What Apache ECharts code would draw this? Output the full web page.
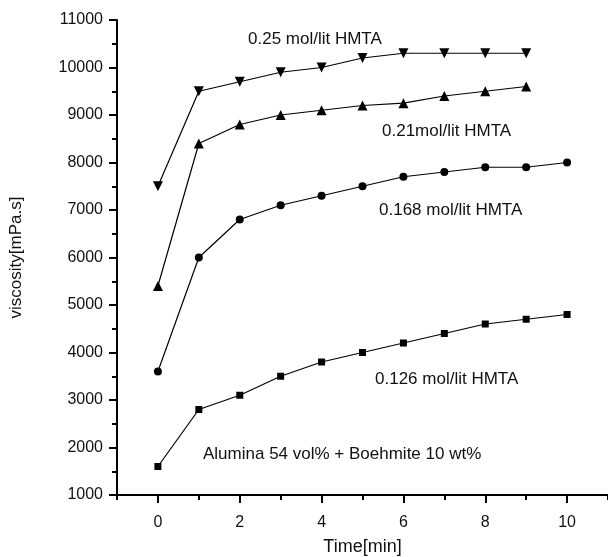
<!DOCTYPE html>
<html>
<head>
<meta charset="utf-8">
<title>viscosity vs time</title>
<script src="https://cdn.jsdelivr.net/npm/echarts@6/dist/echarts.min.js"></script>
<style>
  html, body { margin: 0; padding: 0; background: #fff; }
</style>
</head>
<body>
<div id="chart" style="width:608px;height:557px;"></div>
<script>
// time in minutes
var time = [0, 1, 2, 3, 4, 5, 6, 7, 8, 9, 10];

// viscosity [mPa.s] per HMTA concentration
var hmta025 = [7500, 9500, 9700, 9900, 10000, 10200, 10300, 10300, 10300, 10300];
var hmta021 = [5400, 8400, 8800, 9000, 9100, 9200, 9250, 9400, 9500, 9600];
var hmta0168 = [3600, 6000, 6800, 7100, 7300, 7500, 7700, 7800, 7900, 7900, 8000];
var hmta0126 = [1600, 2800, 3100, 3500, 3800, 4000, 4200, 4400, 4600, 4700, 4800];

var xMajor = [0, 2, 4, 6, 8, 10];

var font = '"Liberation Sans", Arial, sans-serif';

function pairs(vals) {
  var out = [];
  for (var i = 0; i < vals.length; i++) out.push([time[i], vals[i]]);
  return out;
}

function line(name, vals, symbol, size, rotate) {
  return {
    name: name,
    type: 'line',
    data: pairs(vals),
    symbol: symbol,
    symbolSize: size,
    symbolRotate: rotate || 0,
    showAllSymbol: true,
    lineStyle: { color: '#000', width: 1.2 },
    itemStyle: { color: '#000' },
    emphasis: { disabled: true },
    animation: false
  };
}

var chart = echarts.init(document.getElementById('chart'));

chart.setOption({
  animation: false,
  grid: { left: 117, right: 0, top: 20, bottom: 62, containLabel: false, outerBoundsMode: 'none' },
  xAxis: [{
    // minor ticks every minute, labels on even minutes
    type: 'value',
    min: -1,
    max: 11,
    interval: 1,
    name: 'Time[min]',
    nameLocation: 'middle',
    nameGap: 43,
    nameTextStyle: { fontFamily: font, fontSize: 18, color: '#111' },
    axisLine: { show: true, onZero: false, lineStyle: { color: '#000', width: 2 } },
    axisTick: { show: true, length: 5, lineStyle: { color: '#000', width: 2 } },
    axisLabel: {
      margin: 20, fontFamily: font, fontSize: 16, color: '#111',
      formatter: function (v) { return (v >= 0 && v <= 10 && v % 2 === 0) ? String(v) : ''; }
    },
    splitLine: { show: false }
  }, {
    // longer major ticks on even minutes
    type: 'value',
    position: 'bottom',
    min: -1,
    max: 11,
    axisLine: { show: true, onZero: false, lineStyle: { color: '#000', width: 2 } },
    axisTick: { show: true, customValues: xMajor, length: 8, lineStyle: { color: '#000', width: 2 } },
    axisLabel: { show: false },
    splitLine: { show: false }
  }],
  yAxis: {
    type: 'value',
    min: 1000,
    max: 11000,
    interval: 1000,
    name: 'viscosity[mPa.s]',
    nameLocation: 'middle',
    nameGap: 92,
    nameTextStyle: { fontFamily: font, fontSize: 17, color: '#111' },
    axisLine: { show: true, onZero: false, lineStyle: { color: '#000', width: 2 } },
    axisTick: { show: true, length: 8, lineStyle: { color: '#000', width: 2 } },
    minorTick: { show: true, splitNumber: 2, length: 5, lineStyle: { color: '#000', width: 2 } },
    axisLabel: { margin: 14, fontFamily: font, fontSize: 16, color: '#111', formatter: function (v) { return String(v); } },
    splitLine: { show: false }
  },
  series: [
    line('0.25 mol/lit HMTA', hmta025, 'triangle', 10, 180),
    line('0.21mol/lit HMTA', hmta021, 'triangle', 10, 0),
    line('0.168 mol/lit HMTA', hmta0168, 'circle', 8),
    line('0.126 mol/lit HMTA', hmta0126, 'rect', 7)
  ],
  graphic: [
    { type: 'text', left: 248, top: 31, style: { text: '0.25 mol/lit HMTA', font: '17px ' + font, fill: '#111' } },
    { type: 'text', left: 382, top: 123, style: { text: '0.21mol/lit HMTA', font: '17px ' + font, fill: '#111' } },
    { type: 'text', left: 379, top: 202, style: { text: '0.168 mol/lit HMTA', font: '17px ' + font, fill: '#111' } },
    { type: 'text', left: 375, top: 371, style: { text: '0.126 mol/lit HMTA', font: '17px ' + font, fill: '#111' } },
    { type: 'text', left: 203, top: 446, style: { text: 'Alumina 54 vol% + Boehmite 10 wt%', font: '17px ' + font, fill: '#111' } }
  ]
});
</script>
</body>
</html>
